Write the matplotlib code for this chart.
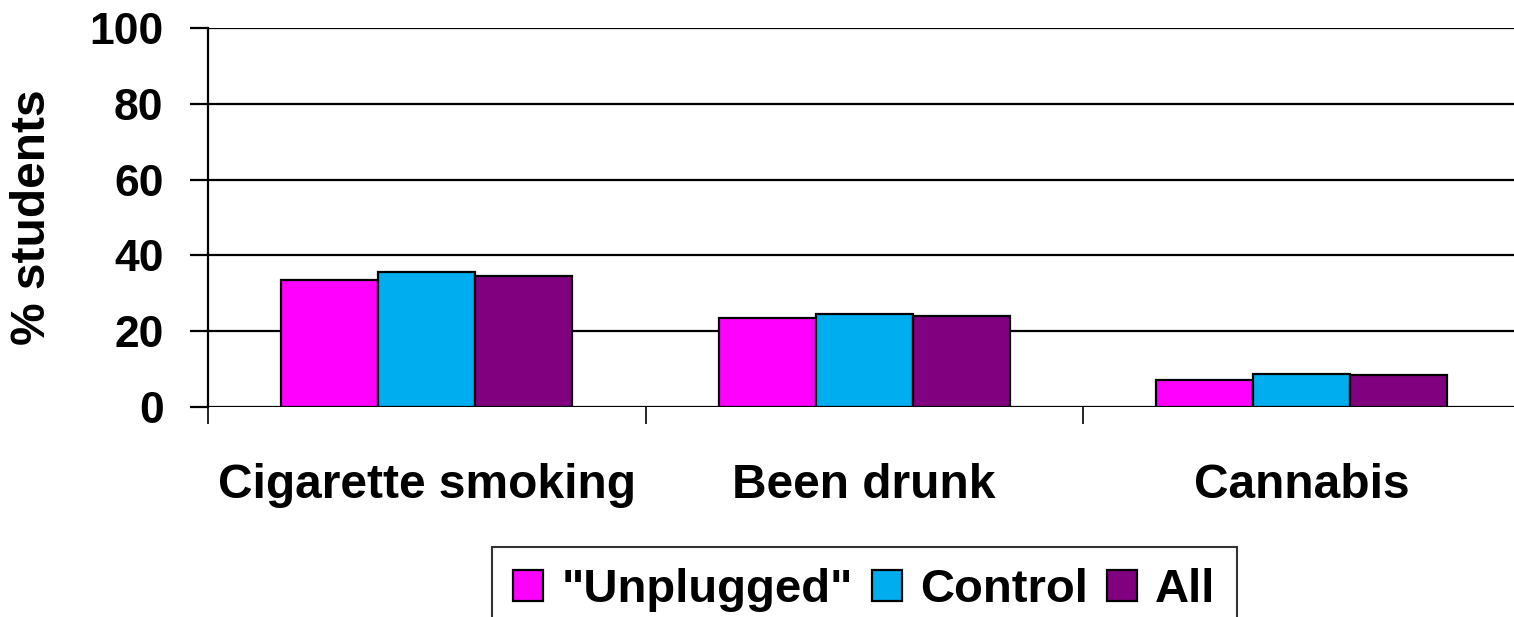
import matplotlib
matplotlib.use("Agg")
import matplotlib.pyplot as plt
import numpy as np

categories = ["Cigarette smoking", "Been drunk", "Cannabis"]
series_names = ['"Unplugged"', "Control", "All"]
unplugged = [33.5, 23.5, 7.2]
control = [35.6, 24.6, 8.7]
all_students = [34.6, 24.1, 8.4]
yticks = [0, 20, 40, 60, 80, 100]

colors = ["#FF00FF", "#00AEEF", "#800080"]

plt.rcParams["font.family"] = ["Liberation Sans", "DejaVu Sans"]
plt.rcParams["font.weight"] = "bold"

fig = plt.figure(figsize=(15.14, 6.17), dpi=100)
ax = fig.add_axes([208 / 1514, (617 - 407) / 617, (1520.5 - 208) / 1514, (407 - 28) / 617])

x = np.arange(len(categories))
width = 0.222
for i, (vals, name, col) in enumerate(zip([unplugged, control, all_students], series_names, colors)):
    ax.bar(x + (i - 1) * width, vals, width, color=col, edgecolor="black",
           linewidth=1.6, label=name, zorder=3)

ax.set_xlim(-0.5, len(categories) - 0.5)
ax.set_ylim(0, 100)
ax.set_yticks(yticks)
ax.set_yticklabels([str(t) for t in yticks], fontsize=32, fontweight="bold")
ax.yaxis.grid(True, color="black", linewidth=1.6, zorder=0)
ax.tick_params(axis="y", length=13, width=1.6, pad=19)

ax.set_xticks(x)
ax.set_xticklabels(categories, fontsize=34.5, fontweight="bold")
ax.tick_params(axis="x", which="major", length=0, pad=40)
ax.set_xticks(np.arange(-0.5, len(categories), 1.0), minor=True)
ax.tick_params(axis="x", which="minor", length=12, width=1.2, direction="out")

for s in ["top", "right", "bottom"]:
    ax.spines[s].set_visible(False)
ax.spines["left"].set_linewidth(1.6)
ax.spines["left"].set_bounds(0, 100)

ax.set_ylabel("% students", fontsize=34.5, fontweight="bold", labelpad=25)

leg = fig.legend(loc="upper left", bbox_to_anchor=(492 / 1514, (617 - 547) / 617),
                 ncol=3, frameon=True, fancybox=False,
                 prop={"weight": "bold", "size": 34},
                 handlelength=0.64, handleheight=0.64, handletextpad=0.38,
                 columnspacing=0.4, borderpad=0.45, borderaxespad=0)
leg.get_frame().set_edgecolor("black")
leg.get_frame().set_linewidth(1.5)

fig.savefig("out.png", dpi=100)
